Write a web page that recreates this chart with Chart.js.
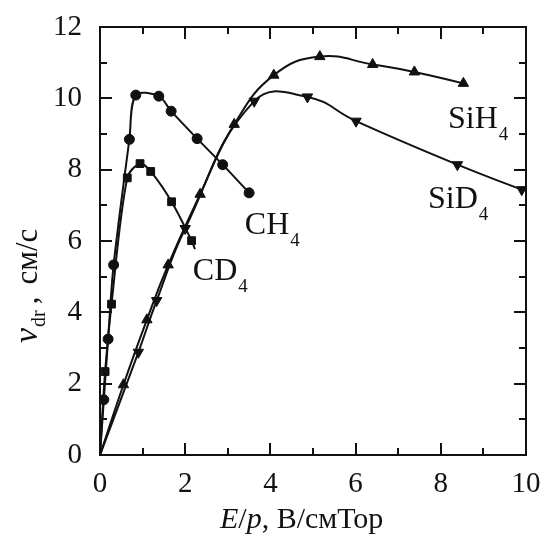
<!DOCTYPE html>
<html>
<head>
<meta charset="utf-8">
<script src="https://cdn.jsdelivr.net/npm/chart.js@4.4.1/dist/chart.umd.min.js"></script>
<style>
  html, body { margin: 0; padding: 0; background: #fff; }
  #wrap { width: 544px; height: 538px; position: relative; }
</style>
</head>
<body>
<div id="wrap"><canvas id="driftChart"></canvas></div>
<script>
// values (E/p in V/cm Torr, v_dr in cm/s)
const ch4X = [0, 0.09, 0.19, 0.32, 0.69, 0.84, 1.38, 1.67, 2.28, 2.88, 3.50];
const ch4Y = [0, 1.55, 3.25, 5.33, 8.85, 10.09, 10.06, 9.64, 8.87, 8.14, 7.35];

const cd4X = [0, 0.12, 0.27, 0.64, 0.94, 1.19, 1.68, 2.15, 2.23];
const cd4Y = [0, 2.34, 4.23, 7.77, 8.17, 7.95, 7.10, 6.01, 5.77];

const sih4X = [0, 0.55, 1.10, 1.60, 2.35, 3.15, 4.08, 5.16, 6.40, 7.38, 8.53];
const sih4Y = [0, 1.97, 3.79, 5.33, 7.31, 9.27, 10.65, 11.17, 10.95, 10.74, 10.42];

const sid4X = [0, 0.90, 1.33, 2.00, 3.62, 4.87, 6.01, 8.39, 9.90];
const sid4Y = [0, 2.88, 4.33, 6.35, 9.92, 10.04, 9.36, 8.14, 7.44];

const xTicks = [0, 2, 4, 6, 8, 10];
const yTicks = [0, 2, 4, 6, 8, 10, 12];

// where the gas names sit, in data units
const seriesLabels = [
    { main: 'CH', sub: '4', x: 3.40, y: 6.20 },
    { main: 'CD', sub: '4', x: 2.18, y: 4.91 },
    { main: 'SiH', sub: '4', x: 8.17, y: 9.17 },
    { main: 'SiD', sub: '4', x: 7.70, y: 6.92 }
];

const SERIF = '"Liberation Serif", "DejaVu Serif", serif';

function toPoints(xs, ys) {
    return xs.map((x, i) => ({ x: x, y: ys[i] }));
}

// no marker on the origin (and on the CD4 tail end)
function radii(n, r, hideLast) {
    const arr = [];
    for (let i = 0; i < n; i++) {
        arr.push(i === 0 || (hideLast && i === n - 1) ? 0 : r);
    }
    return arr;
}

function makeSet(label, xs, ys, style, r, rotation, hideLast, tension) {
    return {
        label: label,
        data: toPoints(xs, ys),
        borderColor: '#111',
        backgroundColor: '#111',
        borderWidth: 2,
        pointStyle: style,
        pointRotation: rotation,
        pointRadius: radii(xs.length, r, hideLast),
        pointBorderWidth: 1,
        tension: tension,
        fill: false
    };
}

// fixed axis box, and no extra room for the end labels
function fixBox(s, size) {
    if (s.isHorizontal()) s.height = size; else s.width = size;
    s.paddingTop = 0;
    s.paddingBottom = 0;
    s.paddingLeft = 0;
    s.paddingRight = 0;
}

// frame with inward ticks on all four sides, axis titles and curve names
const decorations = {
    id: 'decorations',
    afterDraw(chart) {
        const ctx = chart.ctx;
        const a = chart.chartArea;
        const xs = chart.scales.x, ys = chart.scales.y;
        ctx.save();
        ctx.strokeStyle = '#111';
        ctx.lineWidth = 2;
        ctx.strokeRect(a.left, a.top, a.right - a.left, a.bottom - a.top);

        ctx.beginPath();
        for (let v = 1; v < 10; v++) {
            const len = v % 2 === 0 ? 12 : 7;
            const px = Math.round(xs.getPixelForValue(v));
            ctx.moveTo(px, a.bottom); ctx.lineTo(px, a.bottom - len);
            ctx.moveTo(px, a.top); ctx.lineTo(px, a.top + len);
        }
        for (let v = 1; v < 12; v++) {
            const len = v % 2 === 0 ? 12 : 7;
            const py = Math.round(ys.getPixelForValue(v));
            ctx.moveTo(a.left, py); ctx.lineTo(a.left + len, py);
            ctx.moveTo(a.right, py); ctx.lineTo(a.right - len, py);
        }
        ctx.stroke();

        ctx.fillStyle = '#111';
        ctx.textBaseline = 'alphabetic';
        ctx.textAlign = 'left';

        // x title: E/p, В/смТор
        let cx = 220;
        const xParts = [['E', 'italic'], ['/', ''], ['p', 'italic'], [', В/смТор', '']];
        xParts.forEach(p => {
            ctx.font = (p[1] ? 'italic ' : '') + '30px ' + SERIF;
            ctx.fillText(p[0], cx, 528);
            cx += ctx.measureText(p[0]).width;
        });

        // y title: v_dr , см/с (rotated)
        ctx.save();
        ctx.translate(37, 343);
        ctx.rotate(-Math.PI / 2);
        let tx = 0;
        ctx.font = 'italic 34px ' + SERIF;
        ctx.fillText('v', tx, 0);
        tx += ctx.measureText('v').width + 1;
        ctx.font = '20px ' + SERIF;
        ctx.fillText('dr', tx, 8);
        tx += ctx.measureText('dr').width + 6;
        ctx.font = '31px ' + SERIF;
        ctx.fillText(',', tx, 0);
        tx += ctx.measureText(',').width + 12;
        ctx.fillText('см/с', tx, 0);
        ctx.restore();

        // curve names with subscript 4
        seriesLabels.forEach(l => {
            const px = xs.getPixelForValue(l.x);
            const py = ys.getPixelForValue(l.y);
            ctx.font = '32px ' + SERIF;
            ctx.fillText(l.main, px, py);
            const w = ctx.measureText(l.main).width;
            ctx.font = '19px ' + SERIF;
            ctx.fillText(l.sub, px + w + 1, py + 12);
        });
        ctx.restore();
    }
};

function renderChart() {
    const ctx = document.getElementById('driftChart').getContext('2d');
    new Chart(ctx, {
        type: 'line',
        data: {
            datasets: [
                makeSet('CH4', ch4X, ch4Y, 'circle', 5, 0, false, 0.32),
                makeSet('CD4', cd4X, cd4Y, 'rect', 5.5, 0, true, 0.32),
                makeSet('SiH4', sih4X, sih4Y, 'triangle', 6, 0, false, 0.45),
                makeSet('SiD4', sid4X, sid4Y, 'triangle', 6, 180, false, 0.45)
            ]
        },
        options: {
            responsive: true,
            maintainAspectRatio: false,
            animation: false,
            devicePixelRatio: 1,
            layout: { padding: { top: 27, right: 18, left: 0, bottom: 0 } },
            plugins: {
                legend: { display: false },
                tooltip: { enabled: false }
            },
            scales: {
                x: {
                    type: 'linear',
                    min: 0,
                    max: 10,
                    afterFit: s => fixBox(s, 83),
                    afterBuildTicks: s => { s.ticks = xTicks.map(v => ({ value: v })); },
                    grid: { display: false, drawTicks: false },
                    border: { display: false },
                    ticks: {
                        padding: 12,
                        color: '#111',
                        font: { family: SERIF, size: 29 },
                        maxRotation: 0
                    }
                },
                y: {
                    type: 'linear',
                    min: 0,
                    max: 12,
                    afterFit: s => fixBox(s, 100),
                    afterBuildTicks: s => { s.ticks = yTicks.map(v => ({ value: v })); },
                    grid: { display: false, drawTicks: false },
                    border: { display: false },
                    ticks: {
                        padding: 18,
                        color: '#111',
                        font: { family: SERIF, size: 29 }
                    }
                }
            }
        },
        plugins: [decorations]
    });
}

document.addEventListener('DOMContentLoaded', renderChart);
</script>
</body>
</html>
